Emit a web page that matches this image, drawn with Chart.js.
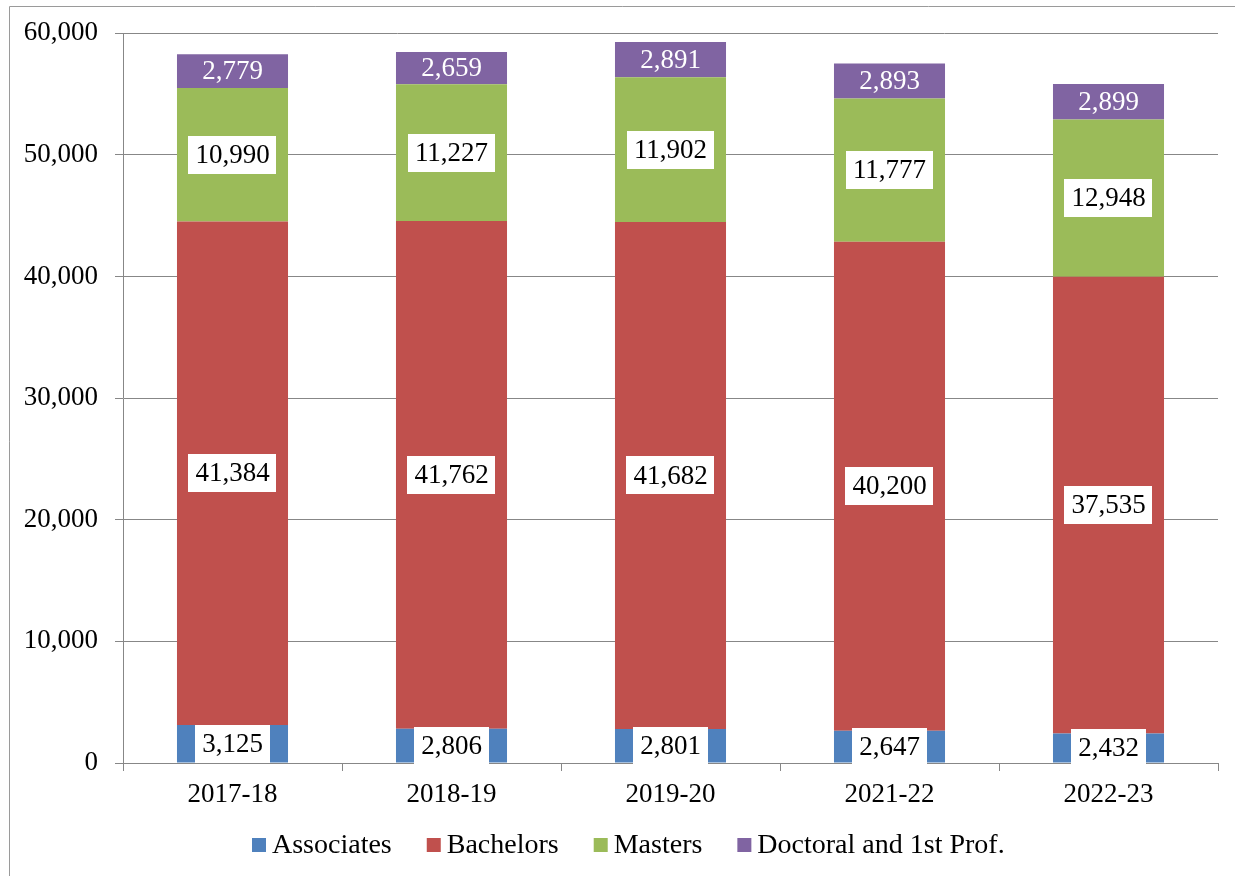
<!DOCTYPE html>
<html>
<head>
<meta charset="utf-8">
<script src="https://cdn.jsdelivr.net/npm/chart.js@4/dist/chart.umd.min.js"></script>
<style>
  html, body { margin: 0; padding: 0; background: #fff; }
  #wrap { position: relative; width: 1235px; height: 876px; }
  canvas { display: block; }
</style>
</head>
<body>
<div id="wrap"><canvas id="c" width="1235" height="876"></canvas></div>
<script>
const categories = ['2017-18', '2018-19', '2019-20', '2021-22', '2022-23'];
const associates = [3125, 2806, 2801, 2647, 2432];
const bachelors  = [41384, 41762, 41682, 40200, 37535];
const masters    = [10990, 11227, 11902, 11777, 12948];
const doctoral   = [2779, 2659, 2891, 2893, 2899];
const seriesNames = ['Associates', 'Bachelors', 'Masters', 'Doctoral and 1st Prof.'];
const seriesColors = ['#4F81BD', '#C0504D', '#9BBB59', '#8064A2'];
const yTicks = [0, 10000, 20000, 30000, 40000, 50000, 60000];

const FONT = "'Liberation Serif', 'Times New Roman', serif";
const GRID = '#878787';

function fmt(v) { return v.toLocaleString('en-US'); }

const labelPlugin = {
  id: 'segLabels',
  afterDatasetsDraw(chart) {
    const ctx = chart.ctx;
    ctx.save();
    ctx.font = '27px ' + FONT;
    ctx.textAlign = 'center';
    ctx.textBaseline = 'middle';
    chart.data.datasets.forEach((ds, di) => {
      const meta = chart.getDatasetMeta(di);
      meta.data.forEach((el, i) => {
        const v = ds.data[i];
        const cx = el.x;
        const cy = (el.y + el.base) / 2;
        const txt = fmt(v);
        if (di === 3) {
          ctx.fillStyle = '#ffffff';
          ctx.fillText(txt, cx, cy + 1);
        } else {
          const w = ctx.measureText(txt).width + 14;
          const h = 38;
          ctx.fillStyle = '#ffffff';
          ctx.fillRect(Math.round(cx - w / 2), Math.round(cy - h / 2), Math.round(w), h);
          ctx.fillStyle = '#000000';
          ctx.fillText(txt, cx, cy + 1);
        }
      });
    });
    ctx.restore();
  }
};

const frameLegendPlugin = {
  id: 'frameLegend',
  beforeDraw(chart) {
    const ctx = chart.ctx;
    ctx.save();
    ctx.fillStyle = '#ffffff';
    ctx.fillRect(0, 0, chart.width, chart.height);
    ctx.strokeStyle = '#9a9a9a';
    ctx.lineWidth = 1;
    ctx.beginPath();
    ctx.moveTo(9.5, chart.height);
    ctx.lineTo(9.5, 6.5);
    ctx.lineTo(chart.width, 6.5);
    ctx.stroke();
    ctx.restore();
  },
  afterDraw(chart) {
    const ctx = chart.ctx;
    ctx.save();
    ctx.font = '28px ' + FONT;
    ctx.textBaseline = 'middle';
    ctx.textAlign = 'left';
    const box = 14, gapText = 6, gapItem = 35;
    const items = chart.data.datasets.map(d => ({ label: d.label, color: d.backgroundColor, w: ctx.measureText(d.label).width }));
    let total = 0;
    items.forEach((it, i) => { total += box + gapText + it.w + (i < items.length - 1 ? gapItem : 0); });
    let x = Math.round(628 - total / 2);
    const cy = 845;
    items.forEach(it => {
      ctx.fillStyle = it.color;
      ctx.fillRect(x, cy - 7, box, box);
      ctx.fillStyle = '#000000';
      ctx.fillText(it.label, x + box + gapText, cy + 1);
      x += box + gapText + it.w + gapItem;
    });
    ctx.restore();
  }
};

const seriesData = [associates, bachelors, masters, doctoral];

new Chart(document.getElementById('c'), {
  type: 'bar',
  data: {
    labels: categories,
    datasets: seriesData.map((d, i) => ({
      label: seriesNames[i],
      data: d,
      backgroundColor: seriesColors[i],
      borderWidth: 0,
      categoryPercentage: 1.0,
      barPercentage: 0.507
    }))
  },
  options: {
    responsive: false,
    animation: false,
    devicePixelRatio: 1,
    layout: { padding: { top: 32, right: 17, bottom: 0, left: 0 } },
    plugins: {
      legend: { display: false },
      tooltip: { enabled: false }
    },
    scales: {
      x: {
        stacked: true,
        offset: true,
        grid: { display: true, drawOnChartArea: false, drawTicks: true, tickLength: 8, color: GRID, offset: true },
        border: { display: true, color: GRID, width: 1 },
        ticks: { color: '#000', font: { family: FONT, size: 27 }, padding: 8, maxRotation: 0 },
        afterFit(scale) { scale.height = 113; }
      },
      y: {
        stacked: true,
        min: 0,
        max: 60000,
        afterBuildTicks(scale) { scale.ticks = yTicks.map(v => ({ value: v })); },
        grid: { color: GRID, lineWidth: 1, drawTicks: true, tickLength: 8 },
        border: { display: true, color: GRID, width: 1 },
        ticks: {
          color: '#000',
          font: { family: FONT, size: 27 },
          padding: 17,
          callback: v => fmt(v)
        },
        afterFit(scale) { scale.width = 123; }
      }
    }
  },
  plugins: [frameLegendPlugin, labelPlugin]
});
</script>
</body>
</html>
